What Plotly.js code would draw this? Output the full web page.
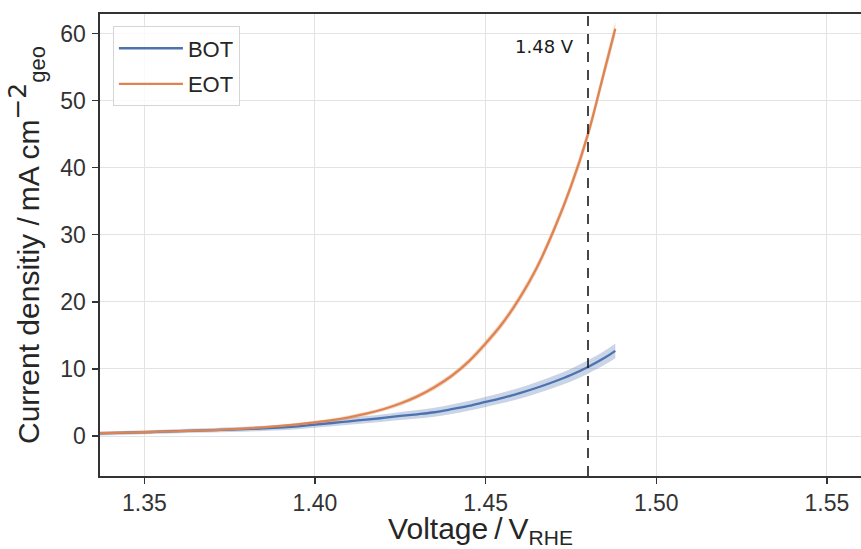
<!DOCTYPE html>
<html>
<head>
<meta charset="utf-8">
<script src="https://cdn.plot.ly/plotly-3.0.1.min.js"></script>
<style>html,body{margin:0;padding:0;background:#fff;}#chart{width:861px;height:549px;}</style>
</head>
<body>
<div id="chart"></div>
<script>
const voltage = [1.337,1.345,1.355,1.365,1.375,1.385,1.395,1.400,1.405,1.410,1.415,1.420,1.425,1.430,1.435,1.440,1.445,1.450,1.455,1.460,1.465,1.470,1.475,1.480,1.485,1.488];
const botCurrent = [0.4,0.5,0.65,0.8,0.95,1.15,1.45,1.7,1.95,2.2,2.45,2.7,3.0,3.25,3.55,4.0,4.5,5.1,5.7,6.4,7.2,8.1,9.1,10.3,11.7,12.7];
const botErr = [0.3,0.3,0.3,0.32,0.35,0.38,0.42,0.45,0.48,0.5,0.53,0.56,0.6,0.63,0.66,0.7,0.72,0.75,0.78,0.82,0.86,0.9,0.95,1.0,1.05,1.1];
const eotCurrent = [0.45,0.52,0.65,0.8,1.0,1.3,1.74,2.03,2.37,2.8,3.33,4.0,4.85,5.92,7.28,8.95,11.1,13.8,16.85,20.6,25.1,30.7,37.2,45.0,54.8,60.7];
const eotErr = [0.2,0.2,0.2,0.2,0.2,0.2,0.25,0.25,0.25,0.3,0.3,0.3,0.35,0.35,0.4,0.4,0.45,0.5,0.55,0.6,0.65,0.7,0.8,0.9,1.0,1.1];
const seriesNames = ["BOT", "EOT"];
const markerVoltage = 1.48;
const markerLabel = "1.48 V";
const xTicks = [1.35, 1.40, 1.45, 1.50, 1.55];
const yTicks = [0, 10, 20, 30, 40, 50, 60];

const BLUE = "#4c72b0", ORANGE = "#dd8452";
const FONT = "Liberation Sans, Arial, sans-serif";

function band(y, e, sign){ return y.map((v,i)=>v + sign*e[i]); }

const traces = [
  {x: voltage, y: band(botCurrent, botErr, -1), mode:"lines", line:{width:0, color:BLUE, shape:"spline"}, showlegend:false, hoverinfo:"skip"},
  {x: voltage, y: band(botCurrent, botErr, 1), mode:"lines", line:{width:0, color:BLUE, shape:"spline"}, fill:"tonexty", fillcolor:"rgba(76,114,176,0.3)", showlegend:false, hoverinfo:"skip"},
  {x: voltage, y: band(eotCurrent, eotErr, -1), mode:"lines", line:{width:0, color:ORANGE, shape:"spline"}, showlegend:false, hoverinfo:"skip"},
  {x: voltage, y: band(eotCurrent, eotErr, 1), mode:"lines", line:{width:0, color:ORANGE, shape:"spline"}, fill:"tonexty", fillcolor:"rgba(221,132,82,0.3)", showlegend:false, hoverinfo:"skip"},
  {x: voltage, y: botCurrent, name: seriesNames[0], mode:"lines", line:{color:BLUE, width:2.3, shape:"spline"}, legendgroup:"a"},
  {x: voltage, y: eotCurrent, name: seriesNames[1], mode:"lines", line:{color:ORANGE, width:2.3, shape:"spline"}, legendgroup:"b"}
];

const yTitle = "Current densitiy /\u2009mA cm" +
  "<sup><span style=\"font-family:'DejaVu Sans';font-size:25px\">\u22122</span></sup>" +
  "<sub><span style=\"font-size:22px\">geo</span></sub>";

const layout = {
  width: 861, height: 549,
  margin: {l:100, r:0, t:14, b:73},
  paper_bgcolor: "#fff", plot_bgcolor: "#fff",
  font: {family: FONT, color: "#262626", size: 18},
  showlegend: true,
  legend: {x: 0.017, y: 0.973, xanchor:"left", yanchor:"top", bgcolor:"rgba(255,255,255,0.8)", bordercolor:"#d5d5d5", borderwidth:1, font:{size:22, family:FONT, color:"#262626"}, tracegroupgap: 4, itemwidth: 64, entrywidth: 136, entrywidthmode: "pixels"},
  xaxis: {
    range: [1.337, 1.56], tickvals: xTicks, tickformat: ".2f",
    showgrid: true, gridcolor: "#e3e3e3", gridwidth: 1,
    showline: true, linecolor: "#333", linewidth: 1.6, mirror: true,
    ticks: "outside", ticklen: 6, tickwidth: 1.4, tickcolor: "#333", ticklabelstandoff: 0,
    tickfont: {size: 23, color: "#333"}, zeroline: false, automargin: false,
    title: {text: "Voltage\u2009/\u2009V<sub>RHE</sub>", font: {size: 30, color:"#262626"}, standoff: 8}
  },
  yaxis: {
    range: [-5.95, 62.9], tickvals: yTicks,
    showgrid: true, gridcolor: "#e3e3e3", gridwidth: 1,
    showline: true, linecolor: "#333", linewidth: 1.6, mirror: true,
    ticks: "outside", ticklen: 6, tickwidth: 1.4, tickcolor: "#333", ticklabelstandoff: 2,
    tickfont: {size: 23, color: "#333"}, zeroline: false, automargin: false,
    title: {text: yTitle, font: {size: 30, color:"#262626"}, standoff: 12}
  },
  shapes: [{type:"line", xref:"x", yref:"paper", x0: markerVoltage, x1: markerVoltage, y0: 0, y1: 1, line:{color:"#1a1a1a", width:1.6, dash:"10px,8px"}}],
  annotations: [{x: markerVoltage, y: 58, xref:"x", yref:"y", text: markerLabel, showarrow:false, xanchor:"right", yanchor:"middle", xshift:-12, font:{family:"DejaVu Sans, sans-serif", size:18, color:"#1a1a1a"}}]
};

Plotly.newPlot("chart", traces, layout, {displayModeBar:false, staticPlot:true});
</script>
</body>
</html>
